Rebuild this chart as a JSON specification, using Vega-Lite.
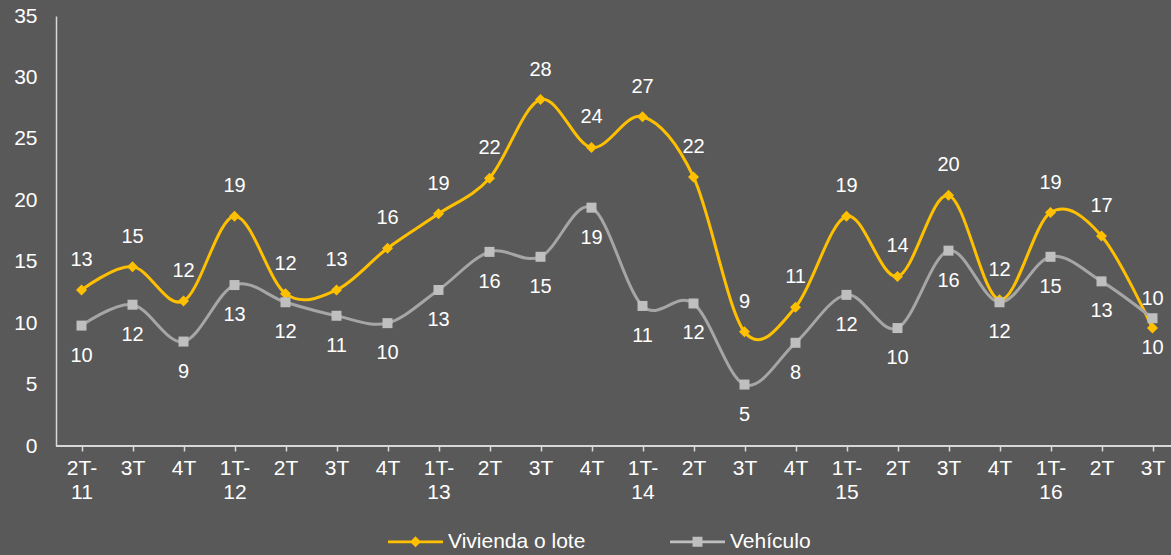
{
  "$schema": "https://vega.github.io/schema/vega-lite/v6.json",
  "width": 1115,
  "height": 430,
  "autosize": {"type": "none"},
  "padding": {"left": 56, "top": 16, "right": 0, "bottom": 109},
  "background": "#595959",
  "config": {
    "view": {"stroke": null},
    "font": "Liberation Sans",
    "axis": {"labelFont": "Liberation Sans", "labelColor": "#FFFFFF", "labelFontSize": 21, "grid": false, "title": null},
    "legend": {"labelFont": "Liberation Sans"}
  },
  "data": {
    "values": [
      {"q": "2T-11", "serie": "Vivienda o lote", "v": 12.7},
      {"q": "3T-11", "serie": "Vivienda o lote", "v": 14.6},
      {"q": "4T-11", "serie": "Vivienda o lote", "v": 11.8},
      {"q": "1T-12", "serie": "Vivienda o lote", "v": 18.7},
      {"q": "2T-12", "serie": "Vivienda o lote", "v": 12.4},
      {"q": "3T-12", "serie": "Vivienda o lote", "v": 12.7},
      {"q": "4T-12", "serie": "Vivienda o lote", "v": 16.1},
      {"q": "1T-13", "serie": "Vivienda o lote", "v": 18.9},
      {"q": "2T-13", "serie": "Vivienda o lote", "v": 21.8},
      {"q": "3T-13", "serie": "Vivienda o lote", "v": 28.2},
      {"q": "4T-13", "serie": "Vivienda o lote", "v": 24.3},
      {"q": "1T-14", "serie": "Vivienda o lote", "v": 26.8},
      {"q": "2T-14", "serie": "Vivienda o lote", "v": 21.9},
      {"q": "3T-14", "serie": "Vivienda o lote", "v": 9.3},
      {"q": "4T-14", "serie": "Vivienda o lote", "v": 11.3},
      {"q": "1T-15", "serie": "Vivienda o lote", "v": 18.7},
      {"q": "2T-15", "serie": "Vivienda o lote", "v": 13.8},
      {"q": "3T-15", "serie": "Vivienda o lote", "v": 20.4},
      {"q": "4T-15", "serie": "Vivienda o lote", "v": 11.9},
      {"q": "1T-16", "serie": "Vivienda o lote", "v": 19.0},
      {"q": "2T-16", "serie": "Vivienda o lote", "v": 17.1},
      {"q": "3T-16", "serie": "Vivienda o lote", "v": 9.6},
      {"q": "2T-11", "serie": "Vehículo", "v": 9.8},
      {"q": "3T-11", "serie": "Vehículo", "v": 11.5},
      {"q": "4T-11", "serie": "Vehículo", "v": 8.5},
      {"q": "1T-12", "serie": "Vehículo", "v": 13.1},
      {"q": "2T-12", "serie": "Vehículo", "v": 11.7},
      {"q": "3T-12", "serie": "Vehículo", "v": 10.6},
      {"q": "4T-12", "serie": "Vehículo", "v": 10.0},
      {"q": "1T-13", "serie": "Vehículo", "v": 12.7},
      {"q": "2T-13", "serie": "Vehículo", "v": 15.8},
      {"q": "3T-13", "serie": "Vehículo", "v": 15.4},
      {"q": "4T-13", "serie": "Vehículo", "v": 19.4},
      {"q": "1T-14", "serie": "Vehículo", "v": 11.4},
      {"q": "2T-14", "serie": "Vehículo", "v": 11.6},
      {"q": "3T-14", "serie": "Vehículo", "v": 5.0},
      {"q": "4T-14", "serie": "Vehículo", "v": 8.4},
      {"q": "1T-15", "serie": "Vehículo", "v": 12.3},
      {"q": "2T-15", "serie": "Vehículo", "v": 9.6},
      {"q": "3T-15", "serie": "Vehículo", "v": 15.9},
      {"q": "4T-15", "serie": "Vehículo", "v": 11.7},
      {"q": "1T-16", "serie": "Vehículo", "v": 15.4},
      {"q": "2T-16", "serie": "Vehículo", "v": 13.4},
      {"q": "3T-16", "serie": "Vehículo", "v": 10.4}
    ]
  },
  "layer": [
    {
      "mark": {"type": "rule", "color": "#D9D9D9", "strokeWidth": 1.5},
      "encoding": {"y": {"datum": 0, "type": "quantitative"}}
    },
    {
      "mark": {"type": "line", "interpolate": "cardinal", "tension": 0, "strokeWidth": 3},
      "encoding": {
        "x": {
          "field": "q", "type": "ordinal", "sort": null,
          "scale": {"type": "point", "padding": 0, "range": [25.5, 1096.5]},
          "axis": {
            "domain": false, "ticks": true, "tickSize": 5, "tickColor": "#D9D9D9", "tickWidth": 1.5,
            "labelAngle": 0, "labelPadding": 6, "labelLineHeight": 24, "labelBaseline": "top",
            "labelExpr": "datum.value == '2T-11' || indexof(datum.value, '1T') == 0 ? [split(datum.value, '-')[0] + '-', split(datum.value, '-')[1]] : split(datum.value, '-')[0]"
          }
        },
        "y": {
          "field": "v", "type": "quantitative",
          "scale": {"domain": [0, 35]},
          "axis": {"values": [0, 5, 10, 15, 20, 25, 30, 35], "domain": true, "domainColor": "#D9D9D9", "domainWidth": 1.5, "ticks": false, "labelPadding": 19}
        },
        "color": {
          "field": "serie", "type": "nominal",
          "scale": {"domain": ["Vivienda o lote", "Vehículo"], "range": ["#FFC000", "#A6A6A6"]},
          "legend": {
            "orient": "none", "legendX": 332, "legendY": 498, "direction": "horizontal", "title": null,
            "padding": 0, "symbolSize": 3025, "labelFontSize": 21, "labelColor": "#FFFFFF",
            "labelOffset": 5, "columnPadding": 84,
            "encode": {
              "symbols": {
                "update": {
                  "shape": {"signal": "datum.label == 'Vivienda o lote' ? 'M-1,-0.05L1,-0.05L1,0.05L-1,0.05Z M0,-0.2L0.2,0L0,0.2L-0.2,0Z' : 'M-1,-0.05L1,-0.05L1,0.05L-1,0.05Z M-0.18,-0.18L0.18,-0.18L0.18,0.18L-0.18,0.18Z'"},
                  "fill": {"signal": "datum.label == 'Vivienda o lote' ? '#FFC000' : '#BFBFBF'"},
                  "stroke": {"value": "transparent"},
                  "strokeWidth": {"value": 0},
                  "size": {"value": 3025},
                  "opacity": {"value": 1}
                }
              }
            }
          }
        }
      }
    },
    {
      "transform": [{"filter": "datum.serie == 'Vivienda o lote'"}],
      "mark": {"type": "point", "shape": "diamond", "filled": true, "opacity": 1, "size": 121, "strokeWidth": 0, "color": "#FFC000"},
      "encoding": {
        "x": {"field": "q", "type": "ordinal", "sort": null},
        "y": {"field": "v", "type": "quantitative"}
      }
    },
    {
      "transform": [{"filter": "datum.serie == 'Vehículo'"}],
      "mark": {"type": "point", "shape": "square", "filled": true, "opacity": 1, "size": 100, "strokeWidth": 0, "color": "#BFBFBF"},
      "encoding": {
        "x": {"field": "q", "type": "ordinal", "sort": null},
        "y": {"field": "v", "type": "quantitative"}
      }
    },
    {
      "transform": [{"filter": "datum.serie == 'Vivienda o lote' && datum.q != '3T-16'"}],
      "mark": {"type": "text", "dy": -30, "fontSize": 20, "color": "#FFFFFF", "baseline": "middle"},
      "encoding": {
        "x": {"field": "q", "type": "ordinal", "sort": null},
        "y": {"field": "v", "type": "quantitative"},
        "text": {"field": "v", "type": "quantitative", "format": ".0f"}
      }
    },
    {
      "transform": [{"filter": "datum.serie == 'Vehículo' && datum.q != '3T-16'"}],
      "mark": {"type": "text", "dy": 30, "fontSize": 20, "color": "#FFFFFF", "baseline": "middle"},
      "encoding": {
        "x": {"field": "q", "type": "ordinal", "sort": null},
        "y": {"field": "v", "type": "quantitative"},
        "text": {"field": "v", "type": "quantitative", "format": ".0f"}
      }
    },
    {
      "transform": [{"filter": "datum.serie == 'Vivienda o lote' && datum.q == '3T-16'"}],
      "mark": {"type": "text", "dy": 20, "fontSize": 20, "color": "#FFFFFF", "baseline": "middle"},
      "encoding": {
        "x": {"field": "q", "type": "ordinal", "sort": null},
        "y": {"field": "v", "type": "quantitative"},
        "text": {"field": "v", "type": "quantitative", "format": ".0f"}
      }
    },
    {
      "transform": [{"filter": "datum.serie == 'Vehículo' && datum.q == '3T-16'"}],
      "mark": {"type": "text", "dy": -19, "fontSize": 20, "color": "#FFFFFF", "baseline": "middle"},
      "encoding": {
        "x": {"field": "q", "type": "ordinal", "sort": null},
        "y": {"field": "v", "type": "quantitative"},
        "text": {"field": "v", "type": "quantitative", "format": ".0f"}
      }
    }
  ]
}
